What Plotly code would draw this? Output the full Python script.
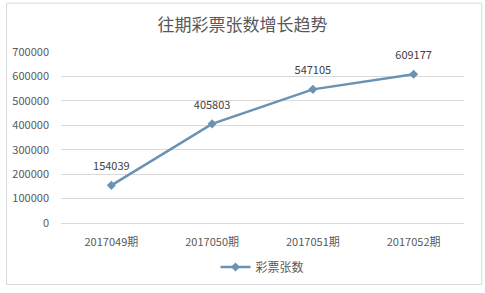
import plotly.graph_objects as go

categories = ["2017049期", "2017050期", "2017051期", "2017052期"]
values = [154039, 405803, 547105, 609177]
series_name = "彩票张数"
title = "往期彩票张数增长趋势"
y_ticks = [0, 100000, 200000, 300000, 400000, 500000, 600000, 700000]

W, H = 485, 293
L, R, T, B = 57, 21, 52, 66
pw, ph = W - L - R, H - T - B

line_color = "#6A92B3"
font_fam = "Noto Sans CJK SC, Noto Sans, sans-serif"

fig = go.Figure()
fig.add_trace(go.Scatter(
    x=categories, y=values, name=series_name,
    mode="lines+markers",
    line=dict(color=line_color, width=2.5),
    marker=dict(symbol="diamond", size=7, color=line_color),
))
fig.add_trace(go.Scatter(
    x=categories, y=values, showlegend=False, hoverinfo="skip",
    mode="markers+text", cliponaxis=False,
    marker=dict(size=18, color="rgba(0,0,0,0)"),
    text=[str(v) for v in values], textposition="top center",
    textfont=dict(size=11, color="#404040", family=font_fam),
))

fig.update_layout(
    width=W, height=H,
    margin=dict(l=L, r=R, t=T, b=B),
    paper_bgcolor="white", plot_bgcolor="white",
    title=dict(text=title, x=0.5, xanchor="center", y=1 - 25 / H, yanchor="middle",
               font=dict(size=17, color="#595959", family=font_fam)),
    showlegend=True,
    legend=dict(orientation="h", x=0.5, xanchor="center", y=-(272 - 227) / ph, yanchor="middle",
                font=dict(size=12, color="#595959", family=font_fam), itemwidth=30),
    xaxis=dict(showgrid=False, showline=True, linecolor="#D9D9D9", linewidth=1,
               ticks="", ticklabelstandoff=9,
               tickfont=dict(size=11, color="#595959", family=font_fam),
               range=[-0.5, 3.5]),
    yaxis=dict(range=[0, 700000], tickvals=y_ticks, tickformat="d",
               showgrid=True, gridcolor="#D9D9D9", gridwidth=1, zeroline=False,
               showline=False, ticks="", ticklabelstandoff=11,
               tickfont=dict(size=11, color="#595959", family=font_fam)),
    shapes=[dict(type="rect", xref="paper", yref="paper",
                 x0=(2 - L) / pw, x1=(482 - L) / pw,
                 y0=-(290 - (T + ph)) / ph, y1=1 + (T - 2) / ph,
                 line=dict(color="#D9D9D9", width=1), layer="below")],
)

fig.write_html("out.html")
